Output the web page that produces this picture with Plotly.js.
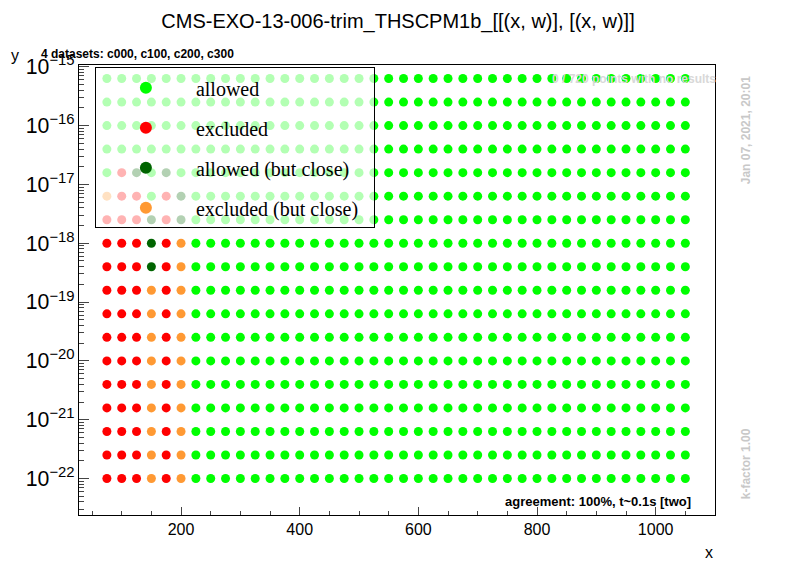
<!DOCTYPE html>
<html><head><meta charset="utf-8">
<script src="https://cdn.plot.ly/plotly-3.0.1.min.js"></script>
<style>body{margin:0}</style></head><body>
<div id="c" style="width:796px;height:572px"></div>
<script>
// grid
const xs = [];
for (let i = 0; i < 40; i++) xs.push(75 + 25 * i);
const ylog = [];
for (let k = 0; k < 18; k++) ylog.push(-22 + 0.4 * k);
// status of first 6 columns (x=75..200) per row k (bottom->top); A=allowed, E=excluded, D=allowed close, O=excluded close
const leftStatus = [
  "EEEOEO","EEEOEO","EEEOEO","EEEOEO","EEEOEO","EEEOEO","EEEOEO","EEEOEO","EEEOEO",
  "EEEDEO","EEEDEO","EEEDED","OEEAED","AEDADA","AAAAAA","AAAAAA","AAAAAA","AAAAAA"
];
const names = {A:"allowed",E:"excluded",D:"allowed (but close)",O:"excluded (but close)"};
const colors = {A:"#00ff00",E:"#ff0000",D:"#006400",O:"#ff9933"};
const pts = {A:{x:[],y:[]},E:{x:[],y:[]},D:{x:[],y:[]},O:{x:[],y:[]}};
for (let k = 0; k < 18; k++) for (let i = 0; i < 40; i++) {
  const s = i < 6 ? leftStatus[k][i] : "A";
  pts[s].x.push(xs[i]); pts[s].y.push(Math.pow(10, ylog[k]));
}
const traces = ["A","E","D","O"].map(s => ({
  type:"scatter", mode:"markers", x:pts[s].x, y:pts[s].y, name:names[s] + "\u00a0\u00a0",
  legendgroup:s, showlegend:true,
  marker:{color:colors[s], size:9}
}));
const gray = "#c8c8c8";
const layout = {
  width:796, height:572, showlegend:true,
  margin:{l:79, r:81, t:65, b:57},
  paper_bgcolor:"white", plot_bgcolor:"white",
  font:{family:"Liberation Sans, Arial", color:"black"},
  title:{text:"CMS-EXO-13-006-trim_THSCPM1b_[[(x, w)], [(x, w)]]", font:{size:20}, x:0.5, xanchor:"center", y:0.975},
  xaxis:{range:[28,1100], showgrid:false, zeroline:false, showline:true, mirror:true, linecolor:"black",
    ticks:"inside", ticklen:8, tickvals:[200,400,600,800,1000], minor:{ticks:"inside", ticklen:4, dtick:50},
    tickfont:{size:16}},
  yaxis:{type:"log", range:[-22.62,-14.97], showgrid:false, zeroline:false, showline:true, mirror:true, linecolor:"black",
    ticks:"inside", ticklen:10, dtick:1, exponentformat:"power", tickfont:{size:17},
    minor:{ticks:"inside", ticklen:5}},
  legend:{x:0.025, y:0.995, xanchor:"left", yanchor:"top", bgcolor:"rgba(255,255,255,0.7)",
    bordercolor:"black", borderwidth:1, font:{family:"Liberation Serif, Times New Roman", size:20}, tracegroupgap:11,
    itemwidth:90, itemsizing:"constant"},
  annotations:[
    {text:"x", xref:"paper", yref:"paper", x:1, y:-0.06, xanchor:"right", yanchor:"top", showarrow:false, font:{size:16}},
    {text:"y", xref:"paper", yref:"paper", x:-0.11, y:1.045, xanchor:"left", yanchor:"top", showarrow:false, font:{size:16}},
    {text:"<b>4 datasets: c000, c100, c200, c300</b>", xref:"paper", yref:"paper", x:-0.063, y:1.005, xanchor:"left", yanchor:"bottom", showarrow:false, font:{size:12}},
    {text:"<b>0 / 720 points with no results</b>", xref:"paper", yref:"paper", x:1.005, y:0.99, xanchor:"right", yanchor:"top", showarrow:false, font:{size:12, color:"#d8d8d8"}},
    {text:"<b>Jan 07, 2021, 20:01</b>", xref:"paper", yref:"paper", x:1.035, y:0.98, xanchor:"left", yanchor:"top", textangle:-90, showarrow:false, font:{size:12, color:gray}},
    {text:"<b>k-factor 1.00</b>", xref:"paper", yref:"paper", x:1.035, y:0.03, xanchor:"left", yanchor:"bottom", textangle:-90, showarrow:false, font:{size:12, color:gray}},
    {text:"<b>agreement: 100%, t~0.1s [two]</b>", xref:"paper", yref:"paper", x:0.965, y:0.01, xanchor:"right", yanchor:"bottom", showarrow:false, font:{size:13}}
  ]
};
Plotly.newPlot("c", traces, layout, {displayModeBar:false});
</script></body></html>
